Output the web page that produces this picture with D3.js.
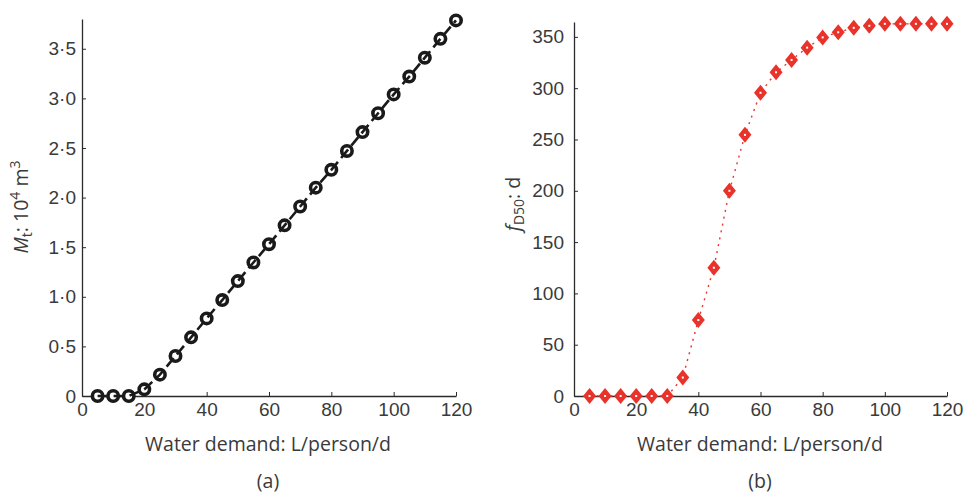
<!DOCTYPE html>
<html>
<head>
<meta charset="utf-8">
<script src="https://cdn.jsdelivr.net/npm/d3@7"></script>
<style>
  body { margin: 0; background: #fff; }
  svg { font-family: "Open Sans", "Noto Sans", sans-serif; }
  .tick text { font-size: 19px; fill: #3a3a3a; }
  .domain, .tick line { stroke: #2b2b2b; }
  .label { font-size: 19.5px; fill: #3a3a3a; }
</style>
</head>
<body>
<svg id="fig" width="964" height="496"></svg>
<script>
// water demand, L/person/d
const demand = [5, 10, 15, 20, 25, 30, 35, 40, 45, 50, 55, 60,
                65, 70, 75, 80, 85, 90, 95, 100, 105, 110, 115, 120];
// (a) Mt, 10^4 m3
const mtValues = [0, 0, 0, 0.067, 0.215, 0.403, 0.591, 0.782, 0.967, 1.158, 1.346, 1.53,
                  1.72, 1.91, 2.10, 2.28, 2.47, 2.66, 2.85, 3.04, 3.22, 3.41, 3.60, 3.786];
// (b) fD50, d
const fValues = [0, 0, 0, 0, 0, 0, 18, 74, 125, 200, 254.5, 295.5,
                 315.5, 327.5, 339.5, 349.5, 354.5, 358.8, 360.8, 362.7, 362.7, 362.7, 362.7, 362.7];
const xTicks = [0, 20, 40, 60, 80, 100, 120];
const mtTicks = [0, 0.5, 1, 1.5, 2, 2.5, 3, 3.5];
const fTicks = [0, 50, 100, 150, 200, 250, 300, 350];

const red = "#e8322a";
const svg = d3.select("#fig");

function panel(left, right, top, bottom, yMax, yTicks, yFmt, yPad) {
    const x = d3.scaleLinear().domain([0, 120]).range([left, right]);
    const y = d3.scaleLinear().domain([0, yMax]).range([bottom, top]);
    svg.append("g")
        .attr("transform", `translate(0,${bottom})`)
        .call(d3.axisBottom(x).tickValues(xTicks).tickSizeInner(-4).tickSizeOuter(0).tickPadding(7))
        .call(g => g.select(".domain").attr("stroke-width", 1.3));
    svg.append("g")
        .attr("transform", `translate(${left},0)`)
        .call(d3.axisLeft(y).tickValues(yTicks).tickFormat(yFmt).tickSizeInner(-4).tickSizeOuter(0).tickPadding(yPad))
        .call(g => g.select(".domain").attr("stroke-width", 1.3));
    return {x, y};
}

// ---- (a)
const a = panel(82, 456, 19, 396, 3.8, mtTicks,
    d => d === 0 ? "0" : d3.format(".1f")(d).replace(".", "·"), 6);

svg.append("g").selectAll("circle")
    .data(demand)
    .join("circle")
    .attr("cx", d => a.x(d))
    .attr("cy", (d, i) => a.y(mtValues[i]))
    .attr("r", 5.2)
    .attr("fill", "#fff")
    .attr("stroke", "#1a1a1a")
    .attr("stroke-width", 3.6);

svg.append("path")
    .datum(demand)
    .attr("fill", "none")
    .attr("stroke", "#1a1a1a")
    .attr("stroke-width", 2.6)
    .attr("stroke-dasharray", "11,5")
    .attr("d", d3.line().x(d => a.x(d)).y((d, i) => a.y(mtValues[i])));

// ---- (b)
const b = panel(574, 947, 22, 396, 364.5, fTicks, d3.format("d"), 10);

svg.append("path")
    .datum(demand)
    .attr("fill", "none")
    .attr("stroke", red)
    .attr("stroke-width", 1.4)
    .attr("stroke-dasharray", "2,5")
    .attr("d", d3.line().x(d => b.x(d)).y((d, i) => b.y(fValues[i])));

const diamonds = svg.append("g").selectAll("g")
    .data(demand)
    .join("g")
    .attr("transform", (d, i) => `translate(${b.x(d)},${b.y(fValues[i])})`);
diamonds.append("path")
    .attr("d", "M0,-8L6.5,0L0,8L-6.5,0Z")
    .attr("fill", red);
diamonds.append("rect")
    .attr("x", -1).attr("y", -1)
    .attr("width", 2).attr("height", 2)
    .attr("fill", "#fff");

// ---- labels
svg.append("text").attr("class", "label")
    .attr("x", 268).attr("y", 451).attr("text-anchor", "middle")
    .text("Water demand: L/person/d");
svg.append("text").attr("class", "label")
    .attr("x", 268).attr("y", 488).attr("text-anchor", "middle")
    .text("(a)");
svg.append("text").attr("class", "label")
    .attr("x", 760).attr("y", 451).attr("text-anchor", "middle")
    .text("Water demand: L/person/d");
svg.append("text").attr("class", "label")
    .attr("x", 760).attr("y", 488).attr("text-anchor", "middle")
    .text("(b)");

const yla = svg.append("text").attr("class", "label")
    .attr("transform", "translate(28,207) rotate(-90)")
    .attr("text-anchor", "middle");
yla.append("tspan").attr("font-style", "italic").text("M");
yla.append("tspan").attr("font-size", 14).attr("dy", 4).text("t");
yla.append("tspan").attr("dy", -4).text(": 10");
yla.append("tspan").attr("font-size", 14).attr("dy", -8).text("4");
yla.append("tspan").attr("dy", 8).text(" m");
yla.append("tspan").attr("font-size", 14).attr("dy", -8).text("3");

const ylb = svg.append("text").attr("class", "label")
    .attr("transform", "translate(520,204) rotate(-90)")
    .attr("text-anchor", "middle");
ylb.append("tspan").attr("font-style", "italic").text("f");
ylb.append("tspan").attr("font-size", 14).attr("dy", 4).text("D50");
ylb.append("tspan").attr("dy", -4).text(": d");
</script>
</body>
</html>
